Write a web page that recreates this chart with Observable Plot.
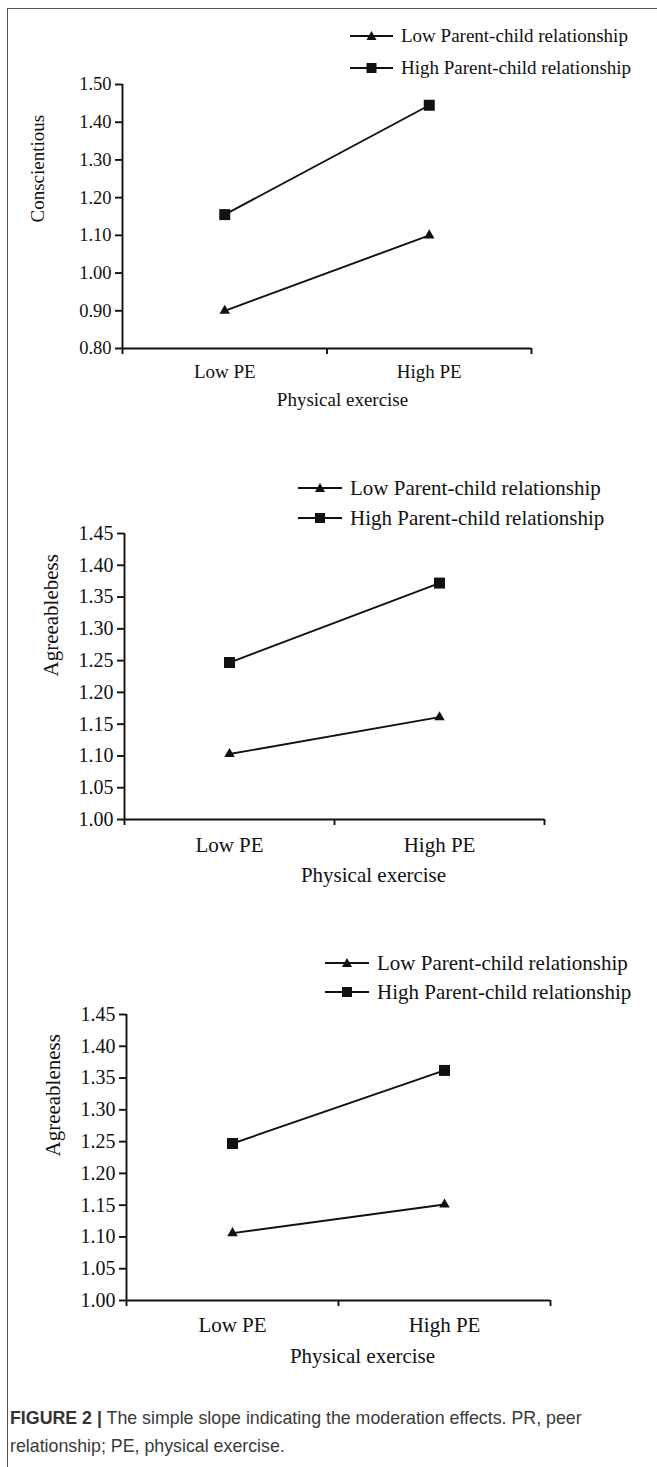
<!DOCTYPE html>
<html>
<head>
<meta charset="utf-8">
<script src="https://cdn.jsdelivr.net/npm/d3@7"></script>
<script src="https://cdn.jsdelivr.net/npm/@observablehq/plot@0.6"></script>
<style>
  html, body { margin: 0; padding: 0; background: #fff; }
  #fig { position: relative; width: 657px; height: 1467px; overflow: hidden; background: #fff; }
  #frame { position: absolute; left: 7px; top: 8px; width: 700px; height: 1500px;
           border-left: 1.5px solid #555; border-top: 1.5px solid #555; box-sizing: border-box; }
  .panel { position: absolute; left: 0; }
  .legend { position: absolute; font-family: "Liberation Serif", "Times New Roman", serif; color: #111; z-index: 2; }
  .legend .row { position: absolute; left: 0; white-space: nowrap; display: flex; align-items: center; }
  .legend svg { display: block; }
  #caption { position: absolute; left: 10px; top: 1404px; width: 640px;
             font-family: "Liberation Sans", Arial, sans-serif; font-size: 17.8px; line-height: 28px; color: #3a3a3a; }
  #caption b { color: #333; }
</style>
</head>
<body>
<div id="fig">
  <div id="frame"></div>
  <div id="caption"><b>FIGURE 2 |</b> The simple slope indicating the moderation effects. PR, peer relationship; PE, physical exercise.</div>
</div>
<script>
// ---------- data ----------
const categories = ["Low PE", "High PE"];
const seriesNames = ["Low Parent-child relationship", "High Parent-child relationship"];
const xTitle = "Physical exercise";

const yTitles = ["Conscientious", "Agreeablebess", "Agreeableness"];

// Panel 1: Conscientious
const consLow  = [0.90, 1.10];
const consHigh = [1.155, 1.445];
const consTicks = [0.80, 0.90, 1.00, 1.10, 1.20, 1.30, 1.40, 1.50];

// Panel 2: Agreeablebess
const agrbLow  = [1.103, 1.161];
const agrbHigh = [1.247, 1.372];
const agrbTicks = [1.00, 1.05, 1.10, 1.15, 1.20, 1.25, 1.30, 1.35, 1.40, 1.45];

// Panel 3: Agreeableness
const agreLow  = [1.106, 1.151];
const agreHigh = [1.247, 1.362];
const agreTicks = [1.00, 1.05, 1.10, 1.15, 1.20, 1.25, 1.30, 1.35, 1.40, 1.45];

// ---------- layout (positions / styles) ----------
const layouts = [
  { yTop: 84,  yBot: 348,  xL: 122, xR: 531, font: 19, tickFont: 18.5, catDy: 25, titleY: 405,  titleX: 342, yTitleX: 37, yTitleY: 222,
    legend: { left: 350, top: 36, gap: 32, lineW: 43, textGap: 8, font: 19 } },
  { yTop: 533, yBot: 819,  xL: 124, xR: 544, font: 21, tickFont: 20, catDy: 28, titleY: 881,  titleX: 373, yTitleX: 51, yTitleY: 676,
    legend: { left: 298, top: 488, gap: 30, lineW: 44, textGap: 8, font: 21 } },
  { yTop: 1014, yBot: 1300, xL: 126, xR: 550, font: 21, tickFont: 20, catDy: 27, titleY: 1362, titleX: 362, yTitleX: 53, yTitleY: 1156,
    legend: { left: 325, top: 963, gap: 29, lineW: 44, textGap: 8, font: 21 } }
];

const panelsData = [
  { low: consLow, high: consHigh, ticks: consTicks, title: yTitles[0] },
  { low: agrbLow, high: agrbHigh, ticks: agrbTicks, title: yTitles[1] },
  { low: agreLow, high: agreHigh, ticks: agreTicks, title: yTitles[2] }
];

const fig = document.getElementById("fig");
const W = 657;
const SW = 1.9;

panelsData.forEach((pd, i) => {
  const L = layouts[i];
  const marginTop = 20, marginBottom = 100;
  const height = marginTop + (L.yBot - L.yTop) + marginBottom;
  const yMin = pd.ticks[0], yMax = pd.ticks[pd.ticks.length - 1];

  const rows = [];
  categories.forEach((c, k) => {
    rows.push({ series: seriesNames[0], cat: c, xi: k + 0.5, value: pd.low[k] });
    rows.push({ series: seriesNames[1], cat: c, xi: k + 0.5, value: pd.high[k] });
  });
  const lowRows = rows.filter(d => d.series === seriesNames[0]);
  const highRows = rows.filter(d => d.series === seriesNames[1]);

  const chart = Plot.plot({
    width: W,
    height,
    marginTop,
    marginBottom,
    marginLeft: L.xL,
    marginRight: W - L.xR,
    style: { background: "transparent", color: "#111", fontFamily: "'Liberation Serif', 'Times New Roman', serif" },
    x: { domain: [0, categories.length] },
    y: { domain: [yMin, yMax] },
    marks: [
      Plot.axisY({ ticks: pd.ticks, tickFormat: d3.format(".2f"), tickSize: 7, tickPadding: 4,
                   fontSize: L.tickFont, strokeWidth: SW, label: null }),
      Plot.axisX({ ticks: d3.range(categories.length + 1), tickFormat: () => "", tickSize: 6,
                   strokeWidth: SW, label: null }),
      Plot.axisX({ ticks: categories.map((c, k) => k + 0.5), tickFormat: d => categories[Math.floor(d)],
                   tickSize: 0, tickPadding: L.catDy - L.font * 0.5, fontSize: L.font, label: null }),
      Plot.ruleX([0], { y1: yMin, y2: yMax, strokeWidth: SW }),
      Plot.ruleY([yMin], { x1: 0, x2: categories.length, strokeWidth: SW }),
      Plot.line(rows, { x: "xi", y: "value", z: "series", stroke: "#111", strokeWidth: SW }),
      Plot.dot(lowRows, { x: "xi", y: "value", symbol: "triangle2", r: 5, fill: "#111", stroke: "none" }),
      Plot.dot(highRows, { x: "xi", y: "value", symbol: "square2", r: 7, fill: "#111", stroke: "none" }),
      Plot.text([pd.title], { frameAnchor: "left", rotate: -90, fontSize: L.font,
                              dx: L.yTitleX - L.xL, dy: L.yTitleY - (L.yTop + L.yBot) / 2 }),
      Plot.text([xTitle], { frameAnchor: "bottom", fontSize: L.font,
                            dx: L.titleX - (L.xL + L.xR) / 2, dy: L.titleY - L.yBot })
    ]
  });
  chart.classList.add("panel");
  chart.style.top = (L.yTop - marginTop) + "px";
  chart.style.position = "absolute";
  chart.style.left = "0px";
  fig.appendChild(chart);

  const lg = L.legend;
  const legend = document.createElement("div");
  legend.className = "legend";
  legend.style.left = lg.left + "px";
  legend.style.top = "0px";
  const symbols = ["tri", "sq"];
  seriesNames.forEach((name, k) => {
    const row = document.createElement("div");
    row.className = "row";
    const cy = lg.top + k * lg.gap;
    row.style.top = (cy - 15) + "px";
    row.style.height = "30px";
    row.style.fontSize = lg.font + "px";
    const w = lg.lineW, h = 14, cx = w / 2, my = h / 2;
    const sym = symbols[k] === "tri"
      ? `<path d="M${cx},${my - 5} L${cx + 5},${my + 4} L${cx - 5},${my + 4} Z" fill="#111"/>`
      : `<rect x="${cx - 5}" y="${my - 5}" width="10" height="10" fill="#111"/>`;
    row.innerHTML = `<svg width="${w}" height="${h}"><line x1="0" x2="${w}" y1="${my}" y2="${my}" stroke="#111" stroke-width="${SW}"/>${sym}</svg>` +
                    `<span style="margin-left:${lg.textGap}px">${name}</span>`;
    legend.appendChild(row);
  });
  fig.appendChild(legend);
});
</script>
</body>
</html>
